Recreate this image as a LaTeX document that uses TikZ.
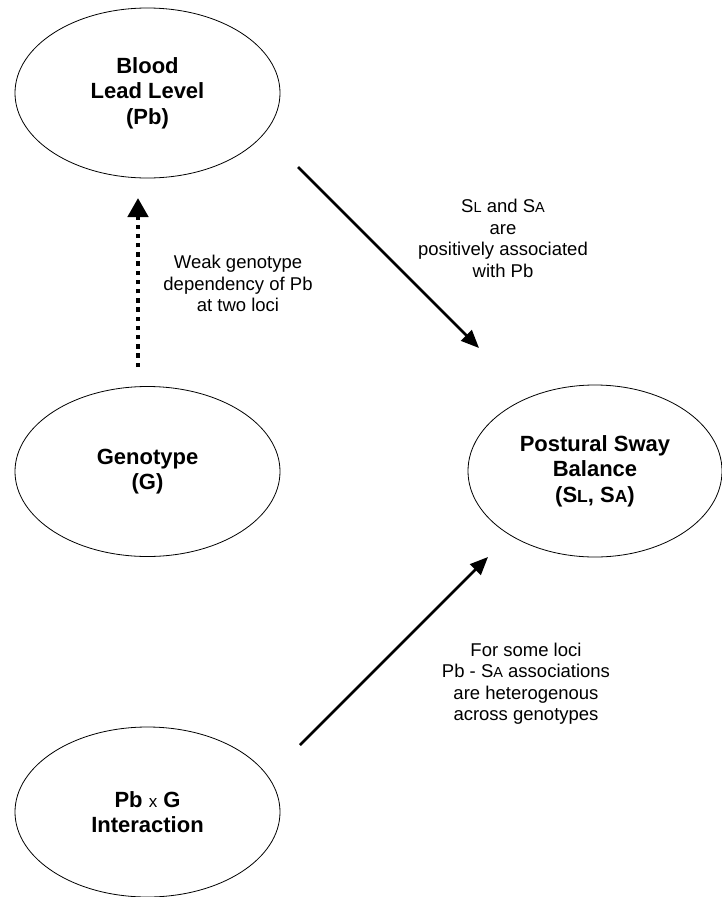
\documentclass[tikz,border=0pt]{standalone}
\usepackage{fontspec}
\setmainfont{Liberation Sans}
\usetikzlibrary{shapes.geometric,arrows.meta}
\newcommand{\lowlet}[2]{{\fontsize{#1}{#1}\selectfont #2}}
\tikzset{
  factor/.style={ellipse, draw, line width=0.8pt, inner sep=0pt, align=center,
    minimum width=265pt, minimum height=170pt,
    font=\bfseries\fontsize{22}{25.5}\selectfont},
  note/.style={align=center, font=\fontsize{18.5}{21.5}\selectfont},
  assoc/.style={line width=2.5pt, -{Triangle[width=15pt,length=18pt]}},
  weak/.style={line width=4.5pt, dash pattern=on 4.5pt off 4.7pt,
    -{Triangle[width=20pt,length=19pt]}}
}
\begin{document}
\begin{tikzpicture}[x=1pt,y=-1pt]
\useasboundingbox (0,0) rectangle (722,897);
% factors
\node[factor] (bll) at (147.5,93) {Blood\\Lead Level\\(Pb)};
\node[factor] (geno) at (147.5,471.5) {Genotype\\(G)};
\node[factor, minimum width=254pt, minimum height=172pt] (sway) at (595,471)
  {Postural Sway\\Balance\\(S\lowlet{17.5}{L}, S\lowlet{17.5}{A})};
\node[factor] (inter) at (147.5,812)
  {Pb \lowlet{17}{\mdseries x} G\\Interaction};
% arrow ends
\coordinate (bllout) at (298,167);
\coordinate (swayin) at (479,348);
\coordinate (interout) at (300,745);
\coordinate (swayin2) at (488,557);
\coordinate (genoout) at (138,367);
\coordinate (bllin) at (138,198);
\draw[weak] (genoout) -- (bllin);
\draw[assoc] (bllout) -- (swayin);
\draw[assoc] (interout) -- (swayin2);
% notes
\node[note] (weaklbl) at (238,283.5) {Weak genotype\\dependency of Pb\\at two loci};
\node[note] (poslbl) at (503,238.5)
  {S\lowlet{14.5}{L} and S\lowlet{14.5}{A}\\are\\positively associated\\with Pb};
\node[note] (hetlbl) at (526,683.5)
  {For some loci\\Pb - S\lowlet{14.5}{A} associations\\are heterogenous\\across genotypes};
\end{tikzpicture}
\end{document}
